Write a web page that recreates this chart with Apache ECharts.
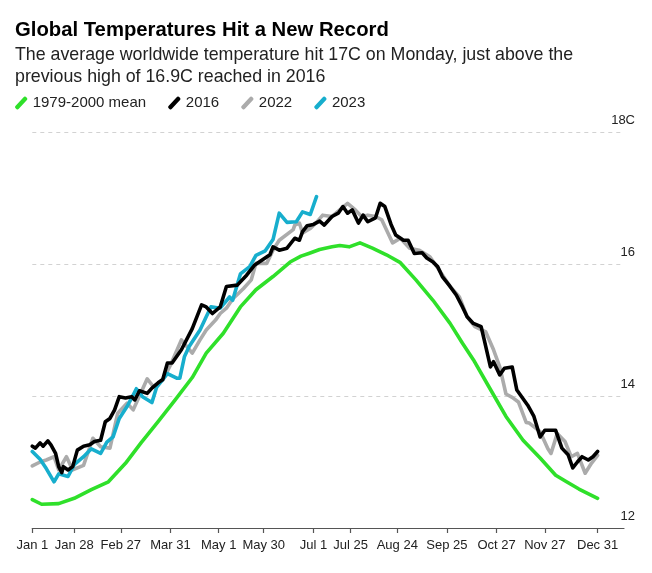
<!DOCTYPE html>
<html>
<head>
<meta charset="utf-8">
<script src="https://cdn.jsdelivr.net/npm/echarts@6/dist/echarts.min.js"></script>
<style>
html,body{margin:0;padding:0;background:#fff;}
#chart{width:652px;height:573px;}
</style>
</head>
<body>
<div id="chart"></div>
<script>
// ---- data (day of year, temperature °C) ----
const tickDays = [0, 27, 57, 89, 120, 149, 181, 205, 235, 267, 299, 330, 364];
const tickLabels = ['Jan 1','Jan 28','Feb 27','Mar 31','May 1','May 30','Jul 1','Jul 25','Aug 24','Sep 25','Oct 27','Nov 27','Dec 31'];
const yTicks = [12, 14, 16, 18];

const mean19792000 = [[0,12.43],[6,12.36],[17,12.37],[27,12.45],[38,12.58],[49,12.70],[60,12.98],[70,13.29],[81,13.61],[92,13.94],[103,14.28],[112,14.65],[123,14.95],[134,15.35],[144,15.61],[155,15.81],[166,16.03],[173,16.12],[178,16.16],[185,16.22],[193,16.26],[198,16.28],[204,16.26],[211,16.32],[219,16.24],[228,16.14],[237,16.02],[247,15.76],[258,15.45],[269,15.10],[277,14.80],[284,14.55],[294,14.14],[305,13.69],[316,13.33],[327,13.06],[337,12.80],[344,12.70],[352,12.59],[364,12.45]];

const y2016 = [[0,13.24],[2,13.21],[5,13.29],[7,13.24],[10,13.32],[12,13.26],[15,13.13],[17,12.93],[19,12.84],[20,12.93],[23,12.88],[26,12.93],[29,13.18],[33,13.24],[37,13.26],[40,13.31],[44,13.33],[47,13.61],[50,13.66],[53,13.79],[56,13.99],[60,13.97],[64,13.99],[66,13.94],[69,14.08],[74,14.04],[77,14.12],[81,14.20],[84,14.25],[87,14.50],[90,14.50],[96,14.70],[103,15.02],[109,15.38],[112,15.35],[116,15.25],[121,15.35],[125,15.66],[132,15.68],[138,15.83],[143,15.98],[148,16.06],[153,16.14],[155,16.26],[159,16.21],[164,16.24],[169,16.39],[172,16.36],[174,16.49],[177,16.58],[181,16.60],[185,16.65],[188,16.59],[193,16.72],[197,16.77],[200,16.87],[203,16.77],[206,16.82],[210,16.62],[213,16.74],[216,16.64],[221,16.70],[224,16.92],[227,16.87],[231,16.60],[234,16.44],[239,16.36],[242,16.36],[246,16.16],[251,16.17],[254,16.09],[258,16.03],[261,15.96],[264,15.81],[269,15.66],[273,15.53],[277,15.35],[280,15.20],[284,15.10],[289,15.05],[291,14.85],[295,14.44],[297,14.52],[301,14.32],[304,14.42],[309,14.44],[312,14.09],[319,13.86],[323,13.69],[327,13.38],[330,13.48],[334,13.48],[337,13.48],[341,13.21],[345,13.11],[348,12.91],[351,13.00],[354,13.08],[358,13.03],[361,13.08],[364,13.16]];

const y2022 = [[0,12.94],[5,13.00],[9,13.03],[14,13.08],[17,12.88],[22,13.08],[26,12.88],[33,12.95],[39,13.36],[44,13.23],[50,13.21],[55,13.74],[61,13.89],[65,13.79],[74,14.26],[78,14.14],[84,14.24],[89,14.47],[96,14.85],[103,14.65],[108,14.85],[112,15.00],[118,15.15],[121,15.25],[125,15.33],[129,15.47],[136,15.63],[141,15.76],[144,16.01],[151,16.01],[155,16.21],[159,16.36],[168,16.52],[169,16.59],[172,16.62],[174,16.47],[179,16.54],[183,16.63],[187,16.74],[193,16.72],[203,16.92],[208,16.82],[212,16.72],[216,16.74],[221,16.72],[225,16.67],[229,16.47],[232,16.32],[237,16.39],[243,16.24],[249,16.21],[256,16.11],[262,15.91],[269,15.66],[275,15.50],[280,15.20],[285,15.05],[292,14.97],[297,14.70],[301,14.44],[305,14.03],[309,13.98],[313,13.91],[318,13.60],[320,13.59],[327,13.46],[332,13.20],[334,13.13],[338,13.43],[343,13.31],[347,13.08],[351,13.13],[356,12.83],[360,12.98],[364,13.10]];

const y2023 = [[0,13.16],[5,13.04],[9,12.90],[14,12.70],[17,12.82],[23,12.78],[27,12.96],[33,13.08],[38,13.20],[44,13.13],[48,13.30],[52,13.38],[56,13.66],[61,13.84],[64,13.97],[67,14.11],[71,13.99],[77,13.90],[80,14.13],[87,14.34],[93,14.27],[95,14.27],[98,14.60],[101,14.75],[108,15.00],[112,15.20],[115,15.35],[121,15.33],[127,15.50],[129,15.45],[134,15.85],[140,15.96],[144,16.13],[150,16.20],[155,16.37],[159,16.77],[164,16.63],[170,16.64],[174,16.79],[179,16.75],[183,17.02]];

const seriesNames = ['1979-2000 mean', '2016', '2022', '2023'];
const seriesColors = ['#2fe02a', '#000000', '#ababab', '#17aecd'];
// ---- end data ----

const N_DAYS = 382;
const cats = [];
for (let i = 0; i < N_DAYS; i++) cats.push(String(i));

const FONT = "'Liberation Sans', Arial, sans-serif";
const chart = echarts.init(document.getElementById('chart'), null, {renderer: 'canvas'});

const icon = 'path://M0,9.2 Q-0.6,10.6 0.6,11.6 L1.4,12.2 Q2.6,13 3.6,11.8 L12,2.8 Q12.6,1.4 11.4,0.4 L10.6,-0.2 Q9.4,-1 8.4,0.2 Z';

function mk(name, data, color, z) {
  return {
    name: name, type: 'line', data: data, showSymbol: false, symbol: 'none',
    smooth: false, z: z,
    lineStyle: {color: color, width: 3.6, cap: 'round', join: 'round'},
    itemStyle: {color: color},
    emphasis: {disabled: true}
  };
}

chart.setOption({
  backgroundColor: '#ffffff',
  animation: false,
  textStyle: {fontFamily: FONT},
  title: {
    left: 15, top: 18, padding: 0, itemGap: 2,
    text: 'Global Temperatures Hit a New Record',
    textStyle: {fontFamily: FONT, fontSize: 20.3, fontWeight: 'bold', color: '#000', lineHeight: 24},
    subtext: 'The average worldwide temperature hit 17C on Monday, just above the\nprevious high of 16.9C reached in 2016',
    subtextStyle: {fontFamily: FONT, fontSize: 17.8, color: '#222', lineHeight: 22}
  },
  legend: {
    left: 15, top: 95.5, padding: 0, itemGap: 22, itemWidth: 13, itemHeight: 13,
    icon: icon,
    data: seriesNames,
    textStyle: {fontFamily: FONT, fontSize: 15, color: '#222', padding: [0,0,0,0]},
    itemStyle: {borderWidth: 0},
    selectedMode: false
  },
  grid: {left: 32.3, right: 28, top: 132, bottom: 45, containLabel: false, outerBoundsMode: 'none'},
  xAxis: {
    type: 'category', data: cats, boundaryGap: false,
    axisLine: {show: true, lineStyle: {color: '#555', width: 1.2}},
    axisTick: {show: true, length: 5, lineStyle: {color: '#555', width: 1.2},
      interval: function (idx) { return tickDays.indexOf(idx) >= 0; }},
    axisLabel: {show: true, fontFamily: FONT, fontSize: 13, color: '#222', margin: 11,
      interval: function (idx) { return tickDays.indexOf(idx) >= 0; },
      formatter: function (v) { const i = tickDays.indexOf(Number(v)); return i >= 0 ? tickLabels[i] : ''; }},
    splitLine: {show: false}
  },
  yAxis: {
    type: 'value', position: 'right', min: yTicks[0], max: yTicks[yTicks.length - 1], interval: 2,
    axisLine: {show: false}, axisTick: {show: false},
    axisLabel: {fontFamily: FONT, fontSize: 13, color: '#222', align: 'right', margin: 11,
      verticalAlign: 'bottom', lineHeight: 24,
      formatter: function (v) { return v === 18 ? '18C' : String(v); }},
    splitLine: {show: true, lineStyle: {color: '#d2d2d2', width: 1, type: [4, 4]}}
  },
  series: [
    mk(seriesNames[0], mean19792000, seriesColors[0], 2),
    mk(seriesNames[2], y2022, seriesColors[2], 3),
    mk(seriesNames[3], y2023, seriesColors[3], 4),
    mk(seriesNames[1], y2016, seriesColors[1], 5)
  ]
});
</script>
</body>
</html>
